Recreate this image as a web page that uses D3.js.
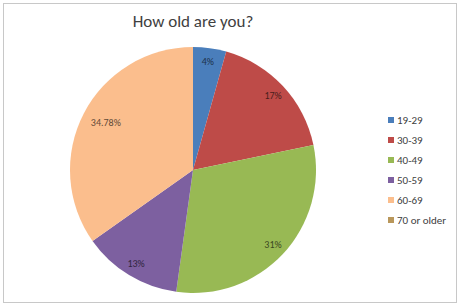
<!DOCTYPE html>
<html>
<head>
<meta charset="utf-8">
<script src="https://cdn.jsdelivr.net/npm/d3@7"></script>
<style>
  body { margin: 0; background: #fff; }
  svg { display: block; font-family: Calibri, Carlito, "Liberation Sans", Arial, sans-serif; }
</style>
</head>
<body>
<div id="chart"></div>
<script>
// Age groups and their shares (8/23 = 34.78% etc.)
const categories = ["19-29", "30-39", "40-49", "50-59", "60-69", "70 or older"];
const values = [4.35, 17.39, 30.43, 13.04, 34.78, 0];
const sliceLabels = ["4%", "17%", "31%", "13%", "34.78%", ""];
const colors = ["#4a7ebb", "#be4b48", "#98b954", "#7d60a0", "#fbbe8d", "#b9975b"];

const width = 462;
const height = 306;

const svg = d3.select("#chart")
    .append("svg")
    .attr("width", width)
    .attr("height", height);

// chart frame
svg.append("rect")
    .attr("x", 3.5)
    .attr("y", 3.5)
    .attr("width", 453)
    .attr("height", 299)
    .attr("fill", "#fff")
    .attr("stroke", "#c8c8c8");

svg.append("text")
    .attr("x", 193)
    .attr("y", 27)
    .attr("text-anchor", "middle")
    .attr("font-size", 17)
    .attr("fill", "#404040")
    .text("How old are you?");

const radius = 123;
const g = svg.append("g").attr("transform", `translate(193,170)`);

const pie = d3.pie().sort(null).value(d => d.value);
const arcs = pie(categories.map((c, i) => ({ name: c, value: values[i], label: sliceLabels[i], color: colors[i] })));

const arc = d3.arc().innerRadius(0).outerRadius(radius);
const labelArc = d3.arc().innerRadius(radius * 0.89).outerRadius(radius * 0.89);

g.selectAll("path")
    .data(arcs)
    .enter()
    .append("path")
    .attr("d", arc)
    .attr("fill", d => d.data.color);

g.selectAll("text")
    .data(arcs.filter(d => d.data.value > 0))
    .enter()
    .append("text")
    .attr("transform", d => {
        const [x, y] = labelArc.centroid(d);
        // the long label sits a little further in
        return d.data.label.length > 4 ? `translate(${x + 10},${y + 3})` : `translate(${x},${y})`;
    })
    .attr("text-anchor", "middle")
    .attr("dy", "0.35em")
    .attr("font-size", 10)
    .attr("fill", d => d3.color(d.data.color).darker(2.6))
    .text(d => d.data.label);

// legend
const legend = svg.append("g").attr("transform", "translate(388,120)");
const rows = legend.selectAll("g")
    .data(categories)
    .enter()
    .append("g")
    .attr("transform", (d, i) => `translate(0,${i * 20})`);

rows.append("rect")
    .attr("x", 0)
    .attr("y", -3)
    .attr("width", 6)
    .attr("height", 6)
    .attr("fill", (d, i) => colors[i]);

rows.append("text")
    .attr("x", 9)
    .attr("y", 0)
    .attr("dy", "0.35em")
    .attr("font-size", 11)
    .attr("fill", "#404040")
    .text(d => d);
</script>
</body>
</html>
